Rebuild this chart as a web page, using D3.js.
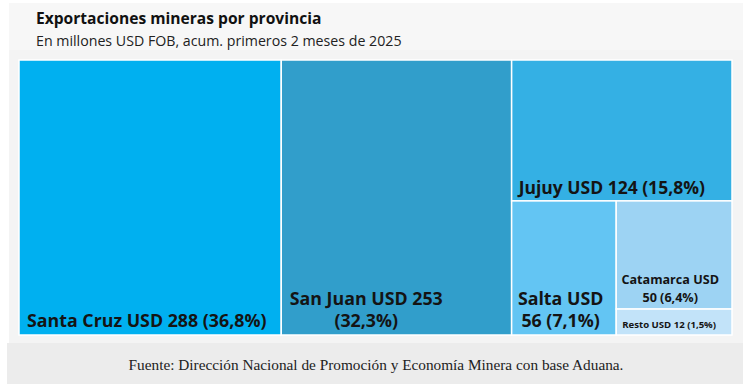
<!DOCTYPE html>
<html>
<head>
<meta charset="utf-8">
<script src="https://cdn.jsdelivr.net/npm/d3@7"></script>
<style>
  body { margin: 0; background: #fff; }
  svg { display: block; }
</style>
</head>
<body>
<div id="chart"></div>
<script>
// data
const provinces = ['Santa Cruz', 'San Juan', 'Jujuy', 'Salta', 'Catamarca', 'Resto'];
const values = [288, 253, 124, 56, 50, 12];
const shares = ['36,8%', '32,3%', '15,8%', '7,1%', '6,4%', '1,5%'];
const colors = ['#00b0f0', '#319ecb', '#34b0e4', '#63c5f3', '#9dd3f3', '#c2e3f9'];

const W = 743, H = 384;
const svg = d3.select('#chart').append('svg').attr('width', W).attr('height', H);

// panels
svg.append('rect').attr('x', 9).attr('y', 3).attr('width', W - 9).attr('height', 340).attr('fill', '#f4f4f4');
svg.append('rect').attr('x', 9).attr('y', 3).attr('width', W - 9).attr('height', 47).attr('fill', '#f7f7f7');
svg.append('rect').attr('x', 7).attr('y', 343).attr('width', W - 7).attr('height', H - 343).attr('fill', '#ececec');

svg.append('text').attr('x', 36).attr('y', 24)
  .style('font', 'bold 15.6px "Open Sans", sans-serif').attr('fill', '#111')
  .text('Exportaciones mineras por provincia');
svg.append('text').attr('x', 36).attr('y', 46)
  .style('font', '14.2px "Open Sans", sans-serif').attr('fill', '#222')
  .text('En millones USD FOB, acum. primeros 2 meses de 2025');

// nested so that slice/dice alternates like the reference
const leaf = i => ({ name: provinces[i], value: values[i], share: shares[i], color: colors[i] });
const tree = {
  children: [leaf(0), leaf(1), {
    children: [leaf(2), {
      children: [leaf(3), { children: [leaf(4), leaf(5)] }]
    }]
  }]
};

const root = d3.hierarchy(tree).sum(d => d.value || 0);
d3.treemap().tile(d3.treemapSliceDice).size([713, 275])(root);

const g = svg.append('g').attr('transform', 'translate(19,60)');

const cells = g.selectAll('g.cell').data(root.leaves()).enter()
  .append('g').attr('class', 'cell');

cells.append('rect')
  .attr('x', d => d.x0).attr('y', d => d.y0)
  .attr('width', d => d.x1 - d.x0).attr('height', d => d.y1 - d.y0)
  .attr('fill', d => d.data.color)
  .attr('stroke', '#fff').attr('stroke-width', 1.5);

// label lines, anchor and size per cell
const labelCfg = {
  'Santa Cruz': { lines: d => [`Santa Cruz USD ${d.value} (${d.data.share})`], size: 17.8, anchor: 'start', dx: 8, lh: 0 },
  'San Juan': { lines: d => [`San Juan USD ${d.value}`, `(${d.data.share})`], size: 17.8, anchor: 'middle', dx: 85, lh: 22 },
  'Jujuy': { lines: d => [`Jujuy USD ${d.value} (${d.data.share})`], size: 17.5, anchor: 'start', dx: 7, lh: 0 },
  'Salta': { lines: d => ['Salta USD', `${d.value} (${d.data.share})`], size: 17.8, anchor: 'middle', dx: 49, lh: 22 },
  'Catamarca': { lines: d => ['Catamarca USD', `${d.value} (${d.data.share})`], size: 12.6, anchor: 'middle', dx: 54, lh: 18 },
  'Resto': { lines: d => [`Resto USD ${d.value} (${d.data.share})`], size: 9.6, anchor: 'start', dx: 6, lh: 0 }
};
const bottomPad = { 'Santa Cruz': 8, 'San Juan': 8, 'Jujuy': 7, 'Salta': 8, 'Catamarca': 7, 'Resto': 7 };

cells.each(function(d) {
  const c = labelCfg[d.data.name];
  const lines = c.lines(d);
  const t = d3.select(this).append('text')
    .attr('text-anchor', c.anchor)
    .attr('fill', '#141414')
    .style('font', `bold ${c.size}px "Open Sans", sans-serif`);
  const baseY = d.y1 - bottomPad[d.data.name] - (lines.length - 1) * c.lh;
  lines.forEach((l, i) => {
    t.append('tspan').attr('x', d.x0 + c.dx).attr('y', baseY + i * c.lh).text(l);
  });
});

svg.append('text').attr('x', 376).attr('y', 370).attr('text-anchor', 'middle')
  .style('font', '15.3px "Liberation Serif", serif').attr('fill', '#222')
  .text('Fuente: Dirección Nacional de Promoción y Economía Minera con base Aduana.');
</script>
</body>
</html>
